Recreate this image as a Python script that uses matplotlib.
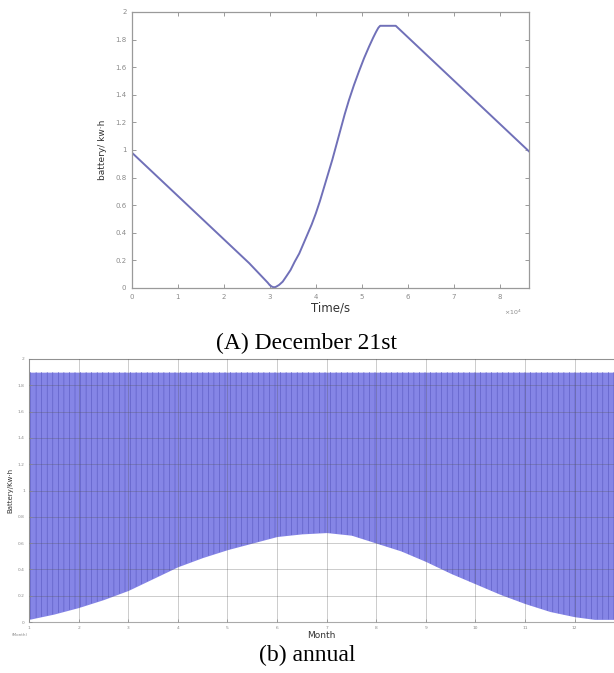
import matplotlib
matplotlib.use("Agg")
import matplotlib.pyplot as plt
import numpy as np

# ---- data: December 21st (time in 1e4 s, battery in kW·h)
day_time = [0.0, 2.55, 2.95, 3.0, 3.05, 3.09, 3.13, 3.2, 3.28, 3.36, 3.45, 3.54, 3.64,
            3.73, 3.82, 3.91, 4.0, 4.09, 4.18, 4.27, 4.36, 4.45, 4.54, 4.63, 4.72,
            4.83, 4.94, 5.05, 5.16, 5.25, 5.31, 5.36, 5.40, 5.74, 8.64]
day_battery = [0.98, 0.18, 0.04, 0.02, 0.009, 0.005, 0.008, 0.022, 0.046, 0.085, 0.13,
               0.19, 0.25, 0.32, 0.39, 0.46, 0.54, 0.63, 0.73, 0.83, 0.93, 1.04,
               1.15, 1.26, 1.36, 1.47, 1.57, 1.665, 1.75, 1.815, 1.855, 1.885, 1.9, 1.9, 0.99]

# ---- data: annual (month, envelope of daily battery cycles)
year_month = [1.0, 1.5, 2.0, 2.5, 3.0, 3.5, 4.0, 4.5, 5.0, 5.5, 6.0, 6.5, 7.0, 7.5,
              8.0, 8.5, 9.0, 9.5, 10.0, 10.5, 11.0, 11.5, 12.0, 12.4, 12.8]
year_low = [0.02, 0.06, 0.11, 0.17, 0.24, 0.33, 0.42, 0.49, 0.55, 0.60, 0.65, 0.67,
            0.68, 0.66, 0.60, 0.54, 0.46, 0.37, 0.29, 0.21, 0.14, 0.08, 0.04, 0.02, 0.02]
year_high = [1.9] * len(year_month)

top_xticks = [0, 1, 2, 3, 4, 5, 6, 7, 8]
yticks = [0, 0.2, 0.4, 0.6, 0.8, 1.0, 1.2, 1.4, 1.6, 1.8, 2.0]
ytick_labels = ["0", "0.2", "0.4", "0.6", "0.8", "1", "1.2", "1.4", "1.6", "1.8", "2"]
month_ticks = list(range(1, 13))

W, H = 614, 673
fig = plt.figure(figsize=(W / 100, H / 100), dpi=100)
fig.patch.set_facecolor("white")

gray = "#8a8a8a"
line_col = "#7070b8"

# ---------- top axes
ax1 = fig.add_axes([132 / W, 1 - 288 / H, (529 - 132) / W, (288 - 12) / H])
ax1.plot(day_time, day_battery, color=line_col, lw=1.4, solid_joinstyle="round")
ax1.set_xlim(0, 8.64)
ax1.set_ylim(0, 2)
ax1.set_xticks(top_xticks)
ax1.set_yticks(yticks)
ax1.set_yticklabels(ytick_labels)
ax1.tick_params(direction="in", length=3, width=0.6, colors=gray, labelsize=5,
                top=True, right=True, pad=4)
for s in ax1.spines.values():
    s.set_color("#9a9a9a")
    s.set_linewidth(0.9)
ax1.text(0.5, -0.05, "Time/s", transform=ax1.transAxes, ha="center", va="top",
         fontsize=8.5, color="#333333")
ax1.set_ylabel("battery/ kw·h", fontsize=6.5, color="#333333", labelpad=6)
ax1.text(513 / W, 1 - 312 / H, r"$\times10^4$", transform=fig.transFigure,
         ha="center", va="center", fontsize=4.5, color=gray)

fig.text(0.5, 1 - 343 / H, "(A) December 21st", ha="center", va="center",
         fontsize=17, family="Liberation Serif", color="black")

# ---------- bottom axes
ax2 = fig.add_axes([29 / W, 1 - 622 / H, (W - 29) / W, (622 - 359) / H])
plt.rcParams["hatch.linewidth"] = 0.45
ax2.fill_between(year_month, year_low, year_high, color="#8585e6", lw=0, zorder=1)
ax2.fill_between(year_month, year_low, year_high, facecolor="none", edgecolor="#5c5cc4",
                 hatch="|||", lw=0, zorder=2)
ax2.set_xlim(1, 1 + (W - 29) / 49.6)
ax2.set_ylim(0, 2)
ax2.set_xticks(month_ticks)
ax2.set_yticks(yticks)
ax2.set_yticklabels(ytick_labels)
ax2.grid(True, color="#555555", alpha=0.35, lw=0.6, zorder=3)
ax2.set_axisbelow(False)
ax2.tick_params(direction="in", length=2, width=0.5, colors=gray, labelsize=3.2, pad=3)
for s in ax2.spines.values():
    s.set_color("#aaaaaa")
    s.set_linewidth(0.8)
ax2.spines["right"].set_visible(False)
ax2.text(0.5, -0.035, "Month", transform=ax2.transAxes, ha="center", va="top",
         fontsize=6.5, color="#333333")
ax2.set_ylabel("Battery/Kw·h", fontsize=5, color="#333333", labelpad=3)
fig.text(20 / W, 1 - 635 / H, "(Month)", ha="center", va="center", fontsize=3, color=gray)

fig.text(0.5, 1 - 655 / H, "(b) annual", ha="center", va="center",
         fontsize=17, family="Liberation Serif", color="black")

fig.savefig("out.png", dpi=100)
